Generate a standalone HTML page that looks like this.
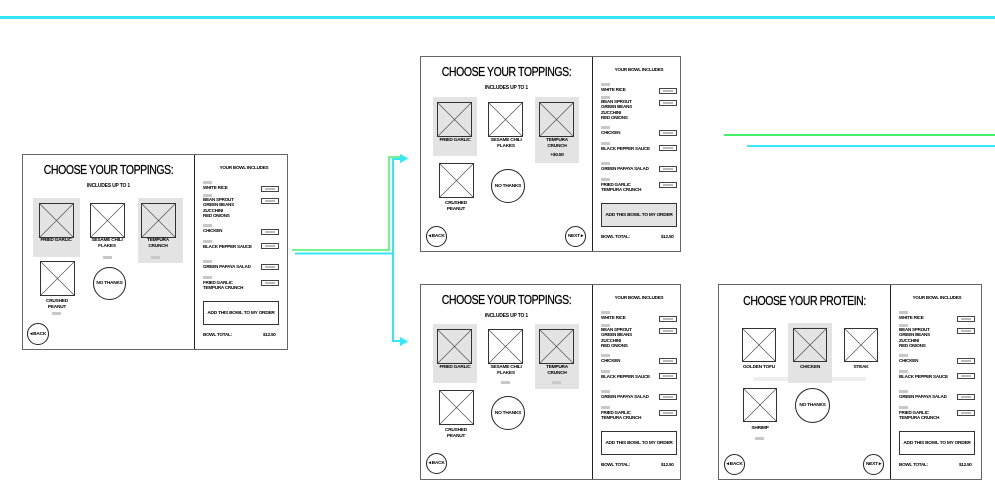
<!DOCTYPE html>
<html><head><meta charset="utf-8"><style>
*{margin:0;padding:0;box-sizing:border-box}
body{width:995px;height:496px;background:#fff;position:relative;overflow:hidden;font-family:"Liberation Sans",sans-serif;color:#000}
.a{position:absolute}
.p{position:absolute;width:264px;height:196px;border:1px solid #666;background:#fff}
.p>*{position:absolute}
.dv{left:171px;top:0;width:1px;height:100%;background:#222}
.t{left:0;width:171px;top:8px;text-align:center;font-size:12.5px;letter-spacing:-.5px;white-space:nowrap;transform:scaleX(.84);-webkit-text-stroke:.25px #000}
.s{left:0;width:171px;top:28px;text-align:center;font-size:5px;font-weight:bold;letter-spacing:-.2px}
.g{background:#e3e3e3}
.im{width:35px;height:35px;border:1px solid #333;background:linear-gradient(to top right,transparent calc(50% - .6px),#444 50%,transparent calc(50% + .6px)),linear-gradient(to bottom right,transparent calc(50% - .6px),#444 50%,transparent calc(50% + .6px))}
.l{font-size:4.8px;font-weight:bold;text-align:center;width:50px;line-height:5.5px;letter-spacing:-.25px}
.c{border:1px solid #222;border-radius:50%;font-size:4.8px;font-weight:bold;display:flex;align-items:center;justify-content:center;letter-spacing:-.25px}
.b{width:9px;height:3px;background:#c8c8c8}
.x{font-size:4.6px;font-weight:bold;left:180px;letter-spacing:-.25px;line-height:4.6px;white-space:nowrap}
.k{left:238px;width:18px;height:6px;border:1px solid #444}
.k:after{content:"";position:absolute;left:3px;top:1px;width:10px;height:2px;background:#bbb}
.bt{left:180px;top:147px;width:76px;height:24px;border:1px solid #333;font-size:4.8px;font-weight:bold;display:flex;align-items:center;justify-content:center;letter-spacing:-.25px}
</style></head><body>
<div class="a" style="left:0;top:16px;width:995px;height:3px;background:#33e6f8"></div>
<div class="a" style="left:724px;top:134px;width:271px;height:2px;background:#44f06a"></div>
<div class="a" style="left:747px;top:145px;width:248px;height:2px;background:#33e6f8"></div>
<svg class="a" style="left:0;top:0" width="995" height="496">
<polyline points="292,250 389,250 389,157 402,157" fill="none" stroke="#44f06a" stroke-width="1.5"/>
<polyline points="295,253.5 393,253.5 393,159 402,159" fill="none" stroke="#33e6f8" stroke-width="2"/>
<polyline points="393,253 393,341 402,341" fill="none" stroke="#33e6f8" stroke-width="2"/>
<polygon points="400,154 408,158.5 400,163" fill="#33e6f8"/>
<polygon points="400,337 408,341.5 400,346" fill="#33e6f8"/>
</svg>

<!-- Panel 1 -->
<div class="p" style="left:22px;top:154px;width:266px">
<div class="dv"></div>
<div class="t">CHOOSE YOUR TOPPINGS:</div><div class="s">INCLUDES UP TO 1</div>
<div class="g" style="left:10px;top:43px;width:47px;height:59px"></div>
<div class="g" style="left:115px;top:43px;width:45px;height:65px"></div>
<div class="im" style="left:16px;top:48px"></div><div class="im" style="left:67px;top:48px"></div><div class="im" style="left:118px;top:48px"></div><div class="im" style="left:17px;top:106px"></div>
<div class="l" style="left:8px;top:83px">FRIED GARLIC</div>
<div class="l" style="left:59px;top:83px">SESAME CHILI<br>FLAKES</div>
<div class="l" style="left:110px;top:83px">TEMPURA<br>CRUNCH</div>
<div class="b" style="left:80px;top:101px"></div><div class="b" style="left:128px;top:101px"></div>
<div class="l" style="left:9px;top:144px">CRUSHED<br>PEANUT</div><div class="b" style="left:29px;top:157px"></div>
<div class="c" style="left:70px;top:112px;width:33px;height:33px">NO THANKS</div>
<div class="c" style="left:4px;top:168px;width:22px;height:22px">◂ BACK</div>
<div class="x" style="left:177px;top:11px;width:88px;text-align:center">YOUR BOWL INCLUDES</div>
<div class="b" style="left:180px;top:26px"></div><div class="x" style="top:31px">WHITE RICE</div><div class="k" style="top:31px"></div>
<div class="b" style="left:180px;top:39px"></div><div class="x" style="top:43px">BEAN SPROUT<br>GREEN BEANS</div><div class="k" style="top:43px"></div>
<div class="x" style="top:54px">ZUCCHINI<br>RED ONIONS</div>
<div class="b" style="left:180px;top:69px"></div><div class="x" style="top:74px">CHICKEN</div><div class="k" style="top:74px"></div>
<div class="b" style="left:180px;top:85px"></div><div class="x" style="top:90px">BLACK PEPPER SAUCE</div><div class="k" style="top:88px"></div>
<div class="b" style="left:180px;top:105px"></div><div class="x" style="top:110px">GREEN PAPAYA SALAD</div><div class="k" style="top:109px"></div>
<div class="b" style="left:180px;top:121px"></div><div class="x" style="top:126px">FRIED GARLIC<br>TEMPURA CRUNCH</div><div class="k" style="top:125px"></div>
<div class="bt" style="top:146px">ADD THIS BOWL TO MY ORDER</div>
<div class="x" style="top:178px">BOWL TOTAL:</div><div class="x" style="left:240px;top:178px">$12.50</div>
</div>

<!-- Panel 2 -->
<div class="p" style="left:420px;top:56px;width:261px">
<div class="dv"></div>
<div class="t">CHOOSE YOUR TOPPINGS:</div><div class="s">INCLUDES UP TO 1</div>
<div class="g" style="left:12px;top:40px;width:44px;height:59px"></div>
<div class="g" style="left:114px;top:40px;width:44px;height:66px"></div>
<div class="im" style="left:16px;top:45px"></div><div class="im" style="left:67px;top:45px"></div><div class="im" style="left:118px;top:45px"></div><div class="im" style="left:18px;top:106px"></div>
<div class="l" style="left:9px;top:81px">FRIED GARLIC</div>
<div class="l" style="left:60px;top:81px">SESAME CHILI<br>FLAKES</div>
<div class="l" style="left:111px;top:81px">TEMPURA<br>CRUNCH</div>
<div class="l" style="left:111px;top:96px">+$0.50</div>
<div class="l" style="left:10px;top:144px">CRUSHED<br>PEANUT</div>
<div class="c" style="left:70px;top:112px;width:34px;height:34px">NO THANKS</div>
<div class="c" style="left:5px;top:169px;width:21px;height:21px">◂ BACK</div>
<div class="c" style="left:144px;top:169px;width:21px;height:21px">NEXT ▸</div>
<div class="x" style="left:174px;top:11px;width:88px;text-align:center">YOUR BOWL INCLUDES</div>
<div class="b" style="left:180px;top:26px"></div><div class="x" style="top:31px">WHITE RICE</div><div class="k" style="top:31px"></div>
<div class="b" style="left:180px;top:39px"></div><div class="x" style="top:43px">BEAN SPROUT<br>GREEN BEANS</div><div class="k" style="top:43px"></div>
<div class="x" style="top:54px">ZUCCHINI<br>RED ONIONS</div>
<div class="b" style="left:180px;top:69px"></div><div class="x" style="top:74px">CHICKEN</div><div class="k" style="top:73px"></div>
<div class="b" style="left:180px;top:85px"></div><div class="x" style="top:90px">BLACK PEPPER SAUCE</div><div class="k" style="top:88px"></div>
<div class="b" style="left:180px;top:105px"></div><div class="x" style="top:110px">GREEN PAPAYA SALAD</div><div class="k" style="top:109px"></div>
<div class="b" style="left:180px;top:121px"></div><div class="x" style="top:126px">FRIED GARLIC<br>TEMPURA CRUNCH</div><div class="k" style="top:125px"></div>
<div class="bt g" style="top:146px">ADD THIS BOWL TO MY ORDER</div>
<div class="x" style="top:178px">BOWL TOTAL:</div><div class="x" style="left:240px;top:178px">$12.50</div>
</div>

<!-- Panel 3 -->
<div class="p" style="left:420px;top:284px;width:261px">
<div class="dv"></div>
<div class="t">CHOOSE YOUR TOPPINGS:</div><div class="s">INCLUDES UP TO 1</div>
<div class="g" style="left:12px;top:39px;width:44px;height:59px"></div>
<div class="g" style="left:114px;top:39px;width:44px;height:65px"></div>
<div class="im" style="left:16px;top:44px"></div><div class="im" style="left:67px;top:44px"></div><div class="im" style="left:118px;top:44px"></div><div class="im" style="left:18px;top:105px"></div>
<div class="l" style="left:9px;top:80px">FRIED GARLIC</div>
<div class="l" style="left:60px;top:80px">SESAME CHILI<br>FLAKES</div>
<div class="l" style="left:111px;top:80px">TEMPURA<br>CRUNCH</div>
<div class="b" style="left:80px;top:96px"></div><div class="b" style="left:131px;top:96px"></div>
<div class="l" style="left:10px;top:143px">CRUSHED<br>PEANUT</div>
<div class="c" style="left:70px;top:111px;width:34px;height:34px">NO THANKS</div>
<div class="c" style="left:5px;top:168px;width:21px;height:21px">◂ BACK</div>
<div class="x" style="left:174px;top:11px;width:88px;text-align:center">YOUR BOWL INCLUDES</div>
<div class="b" style="left:180px;top:26px"></div><div class="x" style="top:31px">WHITE RICE</div><div class="k" style="top:31px"></div>
<div class="b" style="left:180px;top:39px"></div><div class="x" style="top:43px">BEAN SPROUT<br>GREEN BEANS</div><div class="k" style="top:43px"></div>
<div class="x" style="top:54px">ZUCCHINI<br>RED ONIONS</div>
<div class="b" style="left:180px;top:69px"></div><div class="x" style="top:74px">CHICKEN</div><div class="k" style="top:73px"></div>
<div class="b" style="left:180px;top:85px"></div><div class="x" style="top:90px">BLACK PEPPER SAUCE</div><div class="k" style="top:88px"></div>
<div class="b" style="left:180px;top:105px"></div><div class="x" style="top:110px">GREEN PAPAYA SALAD</div><div class="k" style="top:109px"></div>
<div class="b" style="left:180px;top:121px"></div><div class="x" style="top:126px">FRIED GARLIC<br>TEMPURA CRUNCH</div><div class="k" style="top:125px"></div>
<div class="bt" style="top:146px">ADD THIS BOWL TO MY ORDER</div>
<div class="x" style="top:178px">BOWL TOTAL:</div><div class="x" style="left:240px;top:178px">$12.50</div>
</div>

<!-- Panel 4 -->
<div class="p" style="left:718px;top:284px;width:264px">
<div class="dv"></div>
<div class="t" style="top:9px">CHOOSE YOUR PROTEIN:</div>
<div class="a" style="left:34px;top:92px;width:113px;height:4px;background:#efefef"></div>
<div class="g" style="left:69px;top:38px;width:44px;height:60px"></div>
<div class="im" style="left:23px;top:43px;width:34px;height:34px"></div><div class="im" style="left:74px;top:43px;width:34px;height:34px"></div><div class="im" style="left:125px;top:43px;width:34px;height:34px"></div><div class="im" style="left:24px;top:103px;width:34px;height:34px"></div>
<div class="l" style="left:15px;top:80px">GOLDEN TOFU</div>
<div class="l" style="left:66px;top:80px">CHICKEN</div>
<div class="l" style="left:117px;top:80px">STEAK</div>
<div class="l" style="left:16px;top:141px">SHRIMP</div><div class="b" style="left:36px;top:152px"></div>
<div class="c" style="left:76px;top:103px;width:35px;height:35px">NO THANKS</div>
<div class="c" style="left:5px;top:169px;width:21px;height:21px">◂ BACK</div>
<div class="c" style="left:144px;top:169px;width:21px;height:21px">NEXT ▸</div>
<div class="x" style="left:174px;top:11px;width:88px;text-align:center">YOUR BOWL INCLUDES</div>
<div class="b" style="left:180px;top:26px"></div><div class="x" style="top:31px">WHITE RICE</div><div class="k" style="top:31px"></div>
<div class="b" style="left:180px;top:39px"></div><div class="x" style="top:43px">BEAN SPROUT<br>GREEN BEANS</div><div class="k" style="top:43px"></div>
<div class="x" style="top:54px">ZUCCHINI<br>RED ONIONS</div>
<div class="b" style="left:180px;top:69px"></div><div class="x" style="top:74px">CHICKEN</div><div class="k" style="top:73px"></div>
<div class="b" style="left:180px;top:85px"></div><div class="x" style="top:90px">BLACK PEPPER SAUCE</div><div class="k" style="top:88px"></div>
<div class="b" style="left:180px;top:105px"></div><div class="x" style="top:110px">GREEN PAPAYA SALAD</div><div class="k" style="top:109px"></div>
<div class="b" style="left:180px;top:121px"></div><div class="x" style="top:126px">FRIED GARLIC<br>TEMPURA CRUNCH</div><div class="k" style="top:125px"></div>
<div class="bt" style="top:146px">ADD THIS BOWL TO MY ORDER</div>
<div class="x" style="top:178px">BOWL TOTAL:</div><div class="x" style="left:240px;top:178px">$12.50</div>
</div>
</body></html>
